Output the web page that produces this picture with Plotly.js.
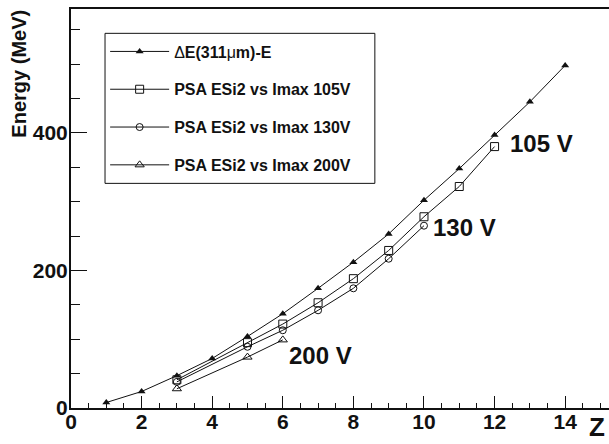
<!DOCTYPE html>
<html>
<head>
<meta charset="utf-8">
<script src="https://cdn.plot.ly/plotly-3.0.1.min.js"></script>
<style>
html,body{margin:0;padding:0;overflow:hidden;background:#fff;}
#chart{width:640px;height:444px;}
</style>
</head>
<body>
<div id="chart"></div>
<script>
// Data
const zDE   = [1,2,3,4,5,6,7,8,9,10,11,12,13,14];
const eDE   = [8,24,47,72,104,137,174,212,253,302,348,397,445,498];
const z105  = [3,5,6,7,8,9,10,11,12];
const e105  = [41,95,122,153,188,229,278,322,380];
const z130  = [3,5,6,7,8,9,10];
const e130  = [38,89,113,142,174,217,265];
const z200  = [3,5,6];
const e200  = [28,74,99];
const seriesNames = [
  "<span style='font-weight:normal'>Δ</span>E(311<span style='font-weight:normal'>μ</span>m)-E",
  "PSA ESi2 vs Imax 105V",
  "PSA ESi2 vs Imax 130V",
  "PSA ESi2 vs Imax 200V"
];
const curveLabels = ["105 V","130 V","200 V"];

const FONT = "Liberation Sans, Arial, Helvetica, sans-serif";
const lineStyle = {color:'#111', width:1};

const traces = [
  {x:zDE, y:eDE, name:seriesNames[0], legendgroup:'a', mode:'lines+markers', line:lineStyle,
   marker:{symbol:'triangle-up', size:7, color:'#111'}},
  {x:z105, y:e105, name:seriesNames[1], legendgroup:'b', mode:'lines+markers', line:lineStyle,
   marker:{symbol:'square-open', size:8, color:'#111', line:{width:1}}},
  {x:z130, y:e130, name:seriesNames[2], legendgroup:'c', mode:'lines+markers', line:lineStyle,
   marker:{symbol:'circle-open', size:7, color:'#111', line:{width:1}}},
  {x:z200, y:e200, name:seriesNames[3], legendgroup:'d', mode:'lines+markers', line:lineStyle,
   marker:{symbol:'triangle-up-open', size:8, color:'#111', line:{width:1}}}
];

const labelFont = {family:FONT, size:24, color:'#111', weight:'bold'};

const layout = {
  width:640, height:444,
  margin:{l:71, r:0, t:9, b:36},
  paper_bgcolor:'#fff', plot_bgcolor:'#fff',
  showlegend:true,
  legend:{
    x:0.06, y:0.936, xanchor:'left', yanchor:'top',
    bgcolor:'rgba(0,0,0,0)', borderwidth:0,
    font:{family:FONT, size:16, color:'#111', weight:'bold'},
    tracegroupgap:14, itemwidth:59
  },
  shapes:[
    {type:'rect', xref:'paper', yref:'paper', x0:0.0598, x1:0.534, y0:0.563, y1:0.939,
     line:{color:'#111', width:1}, fillcolor:'#fff', layer:'above'}
  ],
  xaxis:{
    range:[0,16.12], showgrid:false, zeroline:false,
    showline:true, linecolor:'#111', linewidth:2, mirror:true,
    ticks:'inside', ticklen:12, tickcolor:'#111', tickwidth:1,
    dtick:2, tick0:0,
    minor:{dtick:0.5, ticklen:5, ticks:'inside', tickcolor:'#111', tickwidth:1, showgrid:false},
    tickfont:{family:FONT, size:21, color:'#111', weight:'bold'},
    ticklabelstandoff:-6
  },
  yaxis:{
    range:[0,580], showgrid:false, zeroline:false,
    showline:true, linecolor:'#111', linewidth:2, mirror:true,
    ticks:'inside', ticklen:16, tickcolor:'#111', tickwidth:1,
    dtick:200, tick0:0,
    minor:{dtick:50, ticklen:9, ticks:'inside', tickcolor:'#111', tickwidth:1, showgrid:false},
    tickfont:{family:FONT, size:21, color:'#111', weight:'bold'},
    ticklabelstandoff:-3
  },
  annotations:[
    {x:12.38, y:384, xref:'x', yref:'y', text:curveLabels[0], showarrow:false,
     xanchor:'left', yanchor:'middle', font:labelFont},
    {x:10.2, y:262, xref:'x', yref:'y', text:curveLabels[1], showarrow:false,
     xanchor:'left', yanchor:'middle', font:labelFont},
    {x:6.12, y:77, xref:'x', yref:'y', text:curveLabels[2], showarrow:false,
     xanchor:'left', yanchor:'middle', font:labelFont},
    {x:0.906, y:-0.0902, xref:'paper', yref:'paper', text:'Z', showarrow:false,
     xanchor:'left', yanchor:'bottom', font:{family:FONT, size:26, color:'#111', weight:'bold'}},
    {x:-0.0914, y:0.838, xref:'paper', yref:'paper', text:'Energy (MeV)', showarrow:false, textangle:-90,
     xanchor:'center', yanchor:'middle', font:{family:FONT, size:20, color:'#111', weight:'bold'}}
  ]
};

Plotly.newPlot('chart', traces, layout, {staticPlot:true, displayModeBar:false});
</script>
</body>
</html>
